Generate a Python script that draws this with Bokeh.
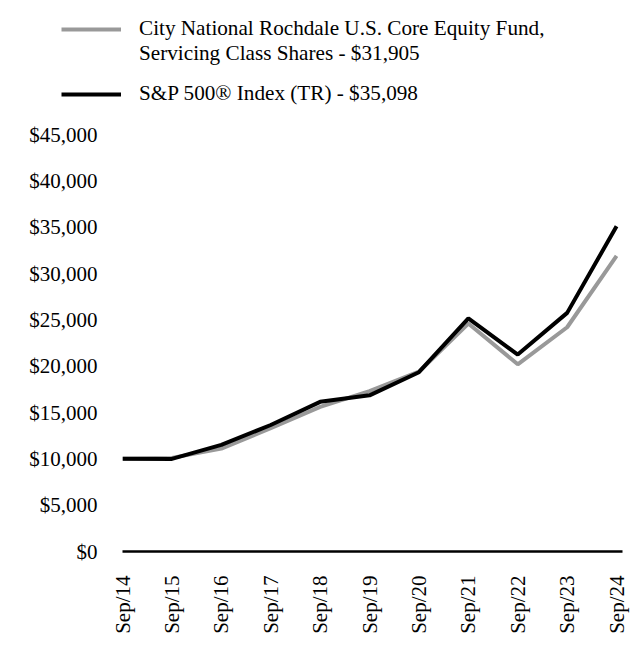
import math
from bokeh.plotting import figure
from bokeh.models import (Range1d, FixedTicker, NumeralTickFormatter, Legend, LegendItem,
                          ColumnDataSource)
from bokeh.embed import file_html
from bokeh.resources import INLINE

# ---- data ----
periods = ["Sep/14", "Sep/15", "Sep/16", "Sep/17", "Sep/18", "Sep/19",
           "Sep/20", "Sep/21", "Sep/22", "Sep/23", "Sep/24"]
fund_values = [10000, 10100, 11100, 13300, 15600, 17300, 19400, 24600, 20200, 24200, 31905]
index_values = [10000, 9990, 11500, 13650, 16150, 16850, 19350, 25150, 21250, 25750, 35098]
y_ticks = [0, 5000, 10000, 15000, 20000, 25000, 30000, 35000, 40000, 45000]
fund_label_lines = ["City National Rochdale U.S. Core Equity Fund,",
                    "Servicing Class Shares - $31,905"]
index_label = "S&P 500\u00ae Index (TR) - $35,098"

FONT = "Liberation Serif"
FUND_COLOR = "#999999"
INDEX_COLOR = "#000000"

xs = list(range(len(periods)))
src = ColumnDataSource(dict(x=xs, fund=fund_values, index=index_values))

# ---- main chart ----
p = figure(width=630, height=543, output_backend="svg", toolbar_location=None,
           x_range=Range1d(0, 10.12), y_range=Range1d(0, 45000),
           min_border_left=122, min_border_right=8, min_border_top=24, min_border_bottom=102)
p.outline_line_color = None
p.grid.visible = False

r_fund = p.line("x", "fund", source=src, line_color=FUND_COLOR, line_width=4)
r_index = p.line("x", "index", source=src, line_color=INDEX_COLOR, line_width=4)

p.yaxis.ticker = FixedTicker(ticks=y_ticks)
p.yaxis.formatter = NumeralTickFormatter(format="$0,0")
p.yaxis.axis_line_color = None
p.yaxis.major_tick_line_color = None
p.yaxis.minor_tick_line_color = None
p.yaxis.major_tick_in = 0
p.yaxis.major_tick_out = 0
p.yaxis.major_label_standoff = 25
p.yaxis.major_label_text_font = FONT
p.yaxis.major_label_text_font_size = "21px"
p.yaxis.major_label_text_color = "#000000"

p.xaxis.ticker = FixedTicker(ticks=xs)
p.xaxis.major_label_overrides = {i: lab for i, lab in enumerate(periods)}
p.xaxis.axis_line_color = "#000000"
p.xaxis.axis_line_width = 2.5
p.xaxis.major_tick_line_color = None
p.xaxis.minor_tick_line_color = None
p.xaxis.major_tick_in = 0
p.xaxis.major_tick_out = 0
p.xaxis.major_label_orientation = math.pi / 2
p.xaxis.major_label_standoff = 24
p.xaxis.major_label_text_font = FONT
p.xaxis.major_label_text_font_size = "21px"
p.xaxis.major_label_text_color = "#000000"

# ---- legend strip above the chart (its series lie outside its own view) ----
lf = figure(width=630, height=110, output_backend="svg", toolbar_location=None,
            x_range=Range1d(0, 1), y_range=Range1d(0, 1),
            x_axis_type=None, y_axis_type=None,
            min_border_left=0, min_border_right=0, min_border_top=0, min_border_bottom=0)
lf.outline_line_color = None
lf.grid.visible = False
k_fund = lf.line("x", "fund", source=src, line_color=FUND_COLOR, line_width=4)
k_blank = lf.line("x", "fund", source=src, line_color=FUND_COLOR, line_alpha=0)
k_index = lf.line("x", "index", source=src, line_color=INDEX_COLOR, line_width=4)

common = dict(orientation="vertical", glyph_width=60, glyph_height=20, label_standoff=18,
              label_height=20, padding=0, margin=0, spacing=0,
              border_line_alpha=0, background_fill_alpha=0,
              label_text_font=FONT, label_text_font_size="21.2px", label_text_color="#000000")
leg_a = Legend(items=[LegendItem(label=fund_label_lines[0], renderers=[k_fund]),
                      LegendItem(label=fund_label_lines[1], renderers=[k_blank])],
               location=(61, 44), **common)
leg_b = Legend(items=[LegendItem(label=index_label, renderers=[k_index])],
               location=(61, 4), **common)
lf.add_layout(leg_a)
lf.add_layout(leg_b)

open("out.html", "w").write(file_html([lf, p], INLINE))
